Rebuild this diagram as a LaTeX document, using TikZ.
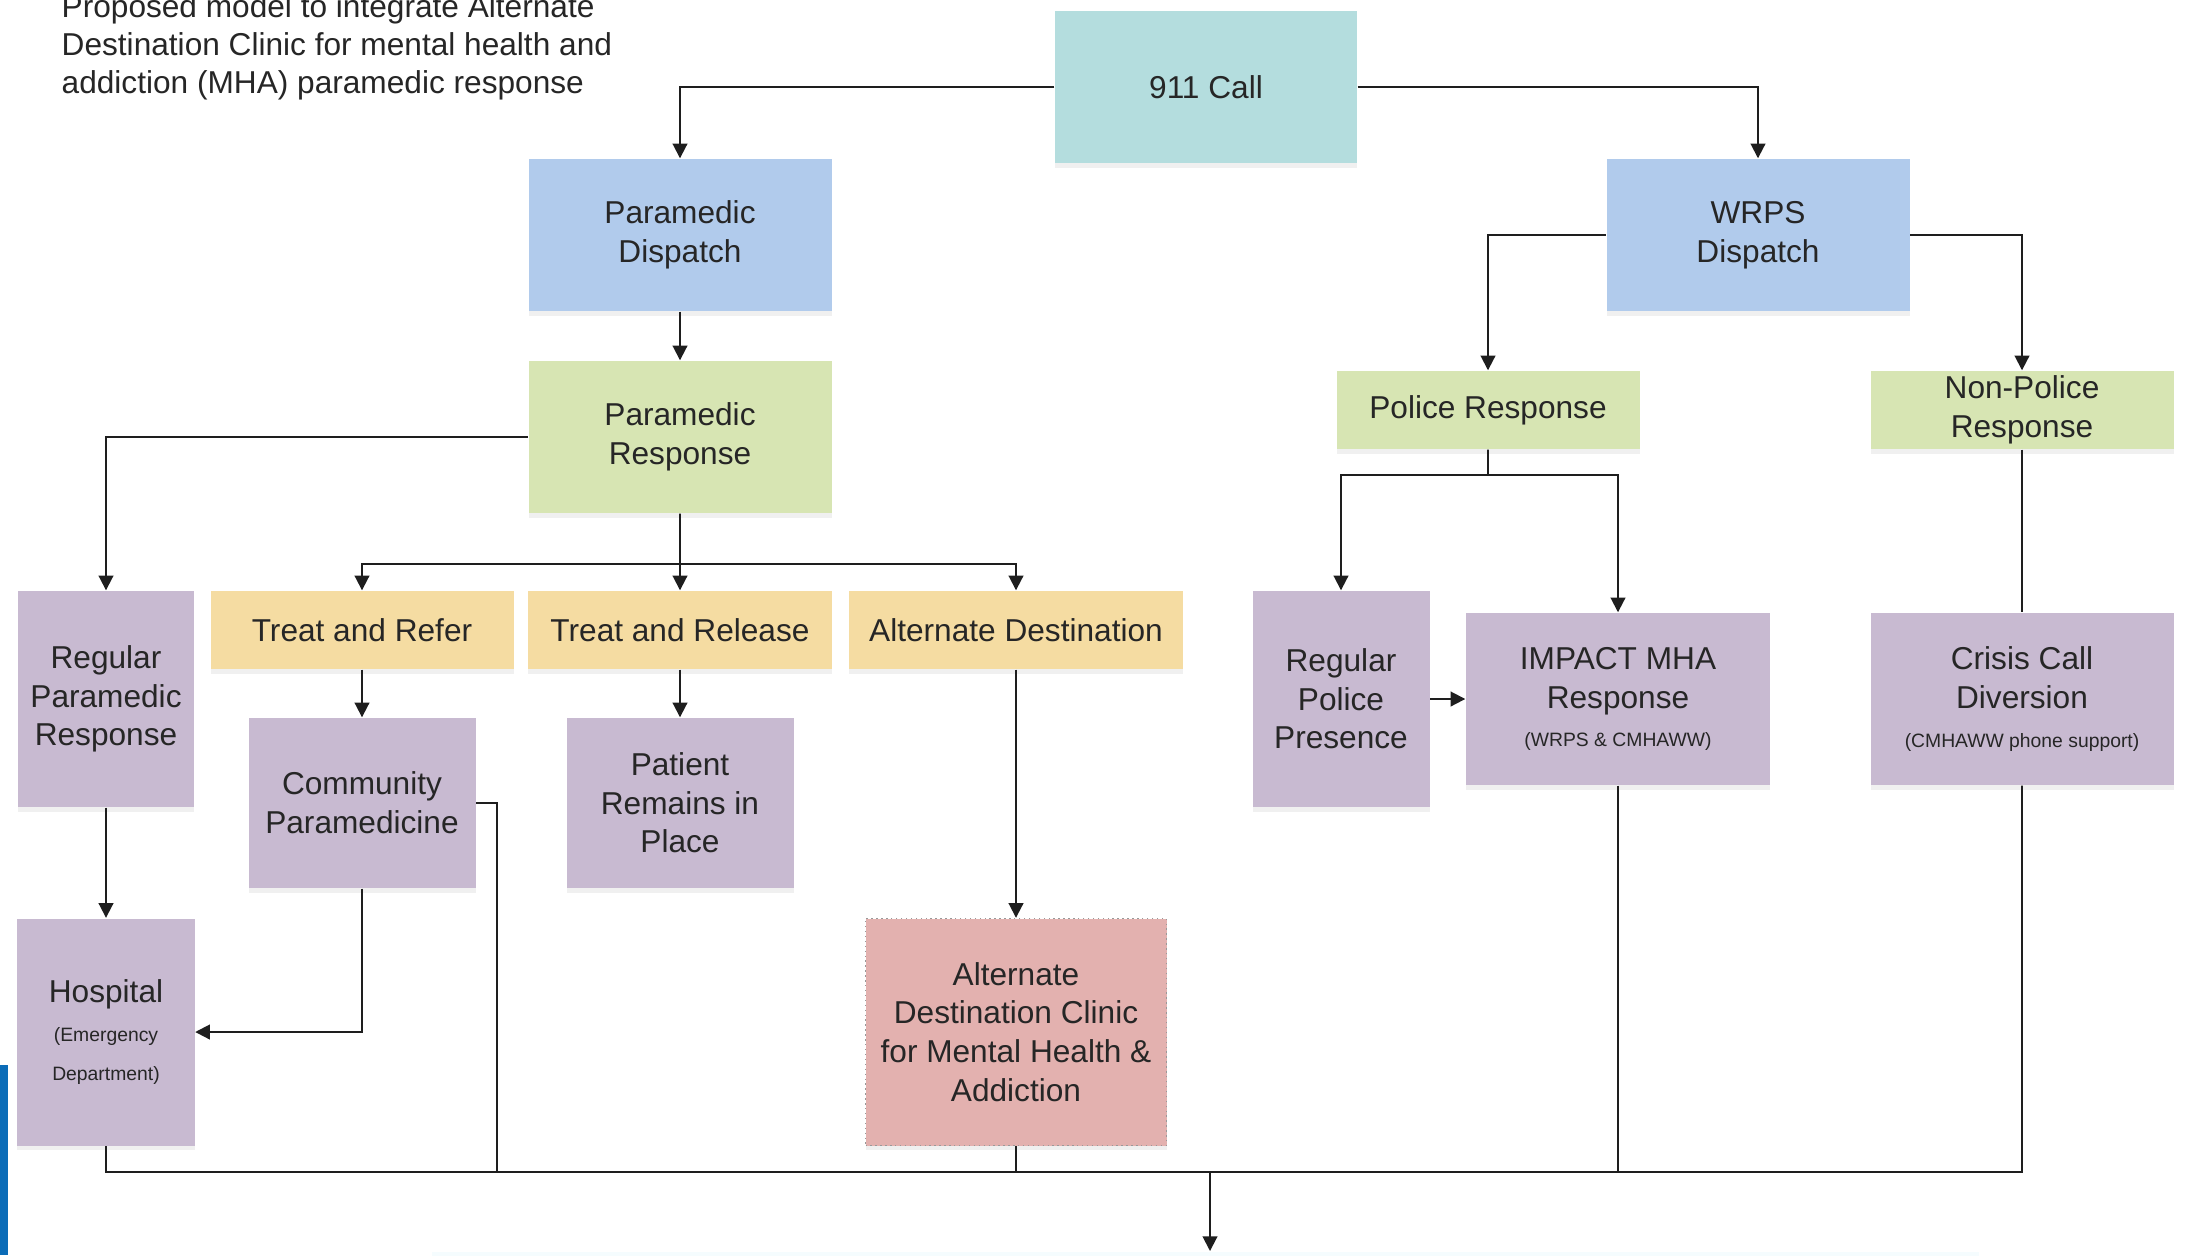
\documentclass[tikz,border=0pt]{standalone}
\usepackage{fontspec}
\setmainfont{Liberation Sans}
\usetikzlibrary{arrows.meta,shadows}

\definecolor{callcol}{HTML}{B4DDDE}
\definecolor{dispcol}{HTML}{B1CBEC}
\definecolor{respcol}{HTML}{D7E5B3}
\definecolor{optcol}{HTML}{F5DCA2}
\definecolor{endcol}{HTML}{C8BAD1}
\definecolor{cliniccol}{HTML}{E3B1AF}
\definecolor{linecol}{HTML}{1E1E1E}
\definecolor{barcol}{HTML}{0B6CB8}

\newcommand{\smalltxt}[1]{{\fontsize{5.5}{8.2}\selectfont #1}}

\begin{document}
\begin{tikzpicture}[
    main/.style = {rectangle, align=center, inner sep=1pt, text=black!85,
        font=\fontsize{9}{11}\selectfont,
        drop shadow={shadow xshift=0pt, shadow yshift=-1.3pt, fill=gray, opacity=0.12}},
    callbox/.style = {main, fill=callcol, minimum width=3.02cm, minimum height=1.52cm},
    dispbox/.style = {main, fill=dispcol, minimum width=3.03cm, minimum height=1.52cm},
    respbox/.style = {main, fill=respcol, minimum width=3.03cm},
    optbox/.style = {main, fill=optcol, minimum height=0.78cm},
    endbox/.style = {main, fill=endcol},
    clinicbox/.style = {main, fill=cliniccol, draw=gray!80, densely dotted},
    link/.style = {draw=linecol, line width=0.55pt},
    arr/.style = {link, -{Triangle[length=4.2pt, width=4.2pt]}}
  ]
        \useasboundingbox (0,0) rectangle (21.85,-12.55);
        \fill[barcol] (0,-10.65) rectangle (0.08,-12.55);

        \node[anchor=north west, align=left, inner sep=0pt, text=black!85,
            font=\fontsize{9}{10.8}\selectfont] (title) at (0.61,0.06)
            {Proposed model to integrate Alternate\\ Destination Clinic for mental health and\\ addiction (MHA) paramedic response};

        \node[callbox, xshift=12.06cm, yshift=-0.87cm] (call) {911 Call};
        \node[dispbox, xshift=6.80cm, yshift=-2.35cm] (pdisp) {Paramedic\\ Dispatch};
        \node[dispbox, xshift=17.58cm, yshift=-2.35cm] (wdisp) {WRPS\\ Dispatch};
        \node[respbox, minimum height=1.52cm, xshift=6.80cm, yshift=-4.37cm] (presp) {Paramedic\\ Response};
        \node[respbox, minimum height=0.78cm, xshift=14.88cm, yshift=-4.10cm] (polresp) {Police Response};
        \node[respbox, minimum height=0.78cm, xshift=20.22cm, yshift=-4.10cm] (nonpol) {Non-Police\\ Response};

        \node[optbox, minimum width=3.03cm, xshift=3.62cm, yshift=-6.30cm] (refer) {Treat and Refer};
        \node[optbox, minimum width=3.04cm, xshift=6.80cm, yshift=-6.30cm] (release) {Treat and Release};
        \node[optbox, minimum width=3.34cm, xshift=10.16cm, yshift=-6.30cm] (altdest) {Alternate Destination};

        \node[endbox, minimum width=1.76cm, minimum height=2.16cm, xshift=1.06cm, yshift=-6.99cm] (regpara) {Regular\\ Paramedic\\ Response};
        \node[endbox, minimum width=2.27cm, minimum height=1.70cm, xshift=3.62cm, yshift=-8.03cm] (commpara) {Community\\ Paramedicine};
        \node[endbox, minimum width=2.27cm, minimum height=1.70cm, xshift=6.80cm, yshift=-8.03cm] (remain) {Patient\\ Remains in\\ Place};
        \node[endbox, minimum width=1.77cm, minimum height=2.27cm, xshift=1.06cm, yshift=-10.32cm] (hosp) {Hospital\\ \smalltxt{(Emergency}\\ \smalltxt{Department)}};
        \node[clinicbox, minimum width=3.01cm, minimum height=2.27cm, xshift=10.16cm, yshift=-10.32cm] (clinic) {Alternate\\ Destination Clinic\\ for Mental Health \&\\ Addiction};
        \node[endbox, minimum width=1.77cm, minimum height=2.16cm, xshift=13.41cm, yshift=-6.99cm] (regpol) {Regular\\ Police\\ Presence};
        \node[endbox, minimum width=3.04cm, minimum height=1.72cm, xshift=16.18cm, yshift=-6.99cm] (impact) {IMPACT MHA\\ Response\\ \smalltxt{(WRPS \& CMHAWW)}};
        \node[endbox, minimum width=3.03cm, minimum height=1.72cm, xshift=20.22cm, yshift=-6.99cm] (crisis) {Crisis Call\\ Diversion\\ \smalltxt{(CMHAWW phone support)}};

        \node[rectangle, fill=cyan!4, minimum width=15.47cm, minimum height=1cm, anchor=north] (nextstep) at (12.055,-12.51) {};

        \coordinate (pbr) at (6.80,-5.64);
        \coordinate (qbr) at (14.88,-4.75);
        \coordinate (bl) at (1.06,-11.72);
        \coordinate (br) at (20.22,-11.72);
        \coordinate (cpb) at (4.97,-11.72);
        \coordinate (out) at (12.10,-11.72);

        \draw[arr] (call) -| (pdisp);
        \draw[arr] (call) -| (wdisp);
        \draw[arr] (pdisp) -- (presp);
        \draw[arr] (wdisp) -| (polresp);
        \draw[arr] (wdisp) -| (nonpol);
        \draw[arr] (presp) -| (regpara);
        \draw[link] (presp) -- (pbr);
        \draw[arr] (pbr) -| (refer);
        \draw[arr] (pbr) -- (release);
        \draw[arr] (pbr) -| (altdest);
        \draw[arr] (refer) -- (commpara);
        \draw[arr] (release) -- (remain);
        \draw[arr] (altdest) -- (clinic);
        \draw[arr] (regpara) -- (hosp);
        \draw[arr] (commpara) |- (hosp);
        \draw[link] (commpara) -| (cpb);
        \draw[link] (polresp) -- (qbr);
        \draw[arr] (qbr) -| (regpol);
        \draw[arr] (qbr) -| (impact);
        \draw[arr] (regpol) -- (impact);
        \draw[link] (nonpol) -- (crisis);

        \draw[link] (hosp) -- (bl) -- (br) -- (crisis);
        \draw[link] (clinic) -- (clinic |- bl);
        \draw[link] (impact) -- (impact |- bl);
        \draw[arr] (out) -- (out |- nextstep.north);

\end{tikzpicture}
\end{document}
